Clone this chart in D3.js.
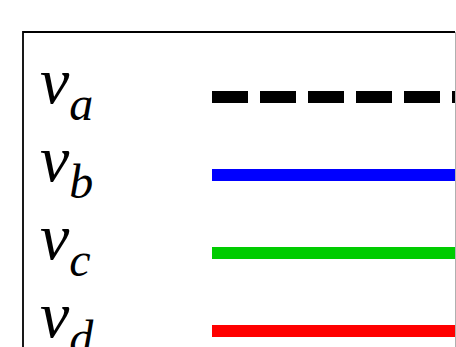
<!DOCTYPE html>
<html>
<head>
<meta charset="utf-8">
<script src="https://cdn.jsdelivr.net/npm/d3@7"></script>
<style>
  html, body { margin: 0; padding: 0; background: #fff; }
  svg { display: block; }
  .lbl { font-family: "Liberation Serif", "DejaVu Serif", serif; font-style: italic; }
</style>
</head>
<body>
<svg id="chart"></svg>
<script>
// legend entries
const names = ["a", "b", "c", "d"];
const colors = ["#000000", "#0000ff", "#00cc00", "#ff0000"];
const dashes = ["36,12", null, null, null];

const width = 456;
const height = 347;

const svg = d3.select("#chart")
    .attr("width", width)
    .attr("height", height);

// legend box, cut by the window on the right and bottom
svg.append("path")
    .attr("d", `M23,${height + 5}V32H455`)
    .attr("fill", "none")
    .attr("stroke", "#000")
    .attr("stroke-width", 1.8);

svg.append("line")
    .attr("x1", 455.5).attr("x2", 455.5)
    .attr("y1", 32).attr("y2", height)
    .attr("stroke", "#b0b0b0")
    .attr("stroke-width", 1);

const y = d3.scalePoint()
    .domain(names)
    .range([97, 331]);

const entry = svg.append("g")
    .selectAll("g")
    .data(names)
    .join("g")
    .attr("transform", d => `translate(0,${y(d)})`);

entry.append("line")
    .attr("x1", 212)
    .attr("x2", 455)
    .attr("stroke", (d, i) => colors[i])
    .attr("stroke-width", 12)
    .attr("stroke-dasharray", (d, i) => dashes[i]);

const label = entry.append("text")
    .attr("class", "lbl")
    .attr("x", 40)
    .attr("y", 6)
    .attr("fill", "#000");

label.append("tspan")
    .attr("font-size", 66)
    .text("v");

label.append("tspan")
    .attr("font-size", 48)
    .attr("dy", 17)
    .text(d => d);
</script>
</body>
</html>
